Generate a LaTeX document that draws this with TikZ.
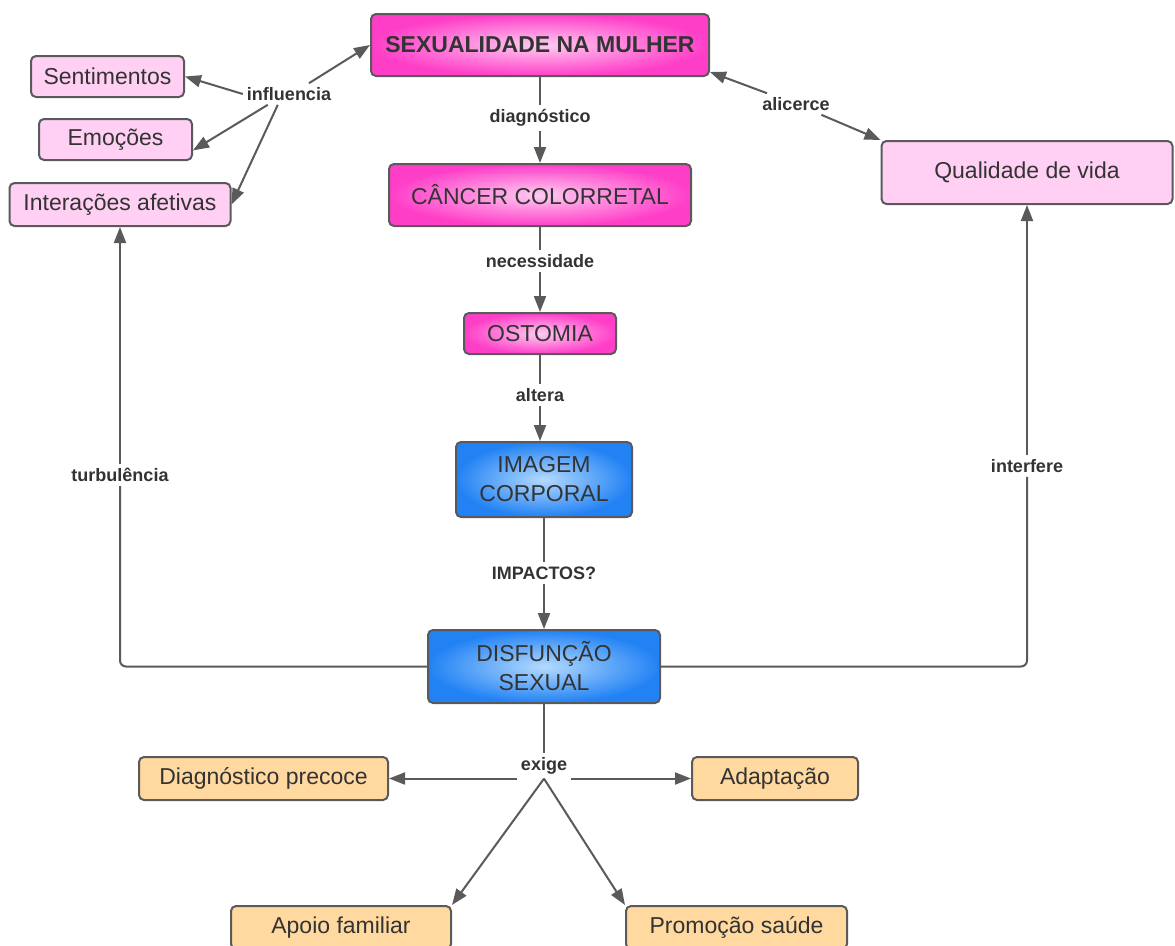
\documentclass[tikz,border=0pt]{standalone}
\usepackage{fontspec}
\setmainfont{Liberation Sans}
\usetikzlibrary{arrows.meta}
\definecolor{edge}{HTML}{5A5A5A}
\definecolor{txt}{HTML}{333333}
\definecolor{lpink}{HTML}{FFD0F4}
\definecolor{hpink}{HTML}{FF3EC8}
\definecolor{cpink}{HTML}{FFCCF2}
\definecolor{orng}{HTML}{FFD9A0}
\definecolor{bblue}{HTML}{2282F4}
\definecolor{cblue}{HTML}{B4DAFF}
\begin{document}
\begin{tikzpicture}[x=1pt,y=-1pt,
  box/.style={draw=edge, line width=2pt, rounded corners=5pt, text=txt, align=center,
    inner sep=0pt, font=\fontsize{23}{29}\selectfont},
  light/.style={box, fill=lpink},
  hot/.style={box, shading=radial, inner color=cpink, outer color=hpink},
  blu/.style={box, shading=radial, inner color=cblue, outer color=bblue},
  org/.style={box, fill=orng},
  lab/.style={text=txt, font=\fontsize{18}{22}\selectfont\bfseries, inner sep=4pt},
  conn/.style={draw=edge, line width=2pt},
  arr/.style={conn, -{Triangle[length=16pt,width=12pt]}},
  darr/.style={conn, {Triangle[length=16pt,width=12pt]}-{Triangle[length=16pt,width=12pt]}}
]
\fill[white] (0,0) rectangle (1175,945);
\useasboundingbox (0,0) rectangle (1175,945);

% boxes
\node[light, minimum width=153pt, minimum height=41pt] (sent) at (107.5,76.5) {Sentimentos};
\node[light, minimum width=153pt, minimum height=41pt] (emo) at (115.5,139.5) {Emoções};
\node[light, minimum width=221pt, minimum height=43pt] (inter) at (120,204.5) {Interações afetivas};
\node[hot, minimum width=338pt, minimum height=62pt, font=\fontsize{23}{29}\selectfont\bfseries] (sex) at (540,45) {SEXUALIDADE NA MULHER};
\node[hot, minimum width=302pt, minimum height=62pt] (can) at (540,195) {CÂNCER COLORRETAL};
\node[hot, minimum width=152pt, minimum height=41pt] (ost) at (540,333.5) {OSTOMIA};
\node[blu, minimum width=176pt, minimum height=75pt] (img) at (544,479.5) {IMAGEM\\CORPORAL};
\node[blu, minimum width=232pt, minimum height=73pt] (dis) at (544,666.5) {DISFUNÇÃO\\SEXUAL};
\node[light, minimum width=291pt, minimum height=63pt] (qual) at (1027,172.5) {Qualidade de vida};
\node[org, minimum width=249pt, minimum height=43pt] (diag) at (263.5,778.5) {Diagnóstico precoce};
\node[org, minimum width=166pt, minimum height=43pt] (adap) at (775,778.5) {Adaptação};
\node[org, minimum width=220pt, minimum height=43pt] (apoio) at (341,927.5) {Apoio familiar};
\node[org, minimum width=221pt, minimum height=43pt] (prom) at (736.5,927.5) {Promoção saúde};

% labels
\node[lab] (inf) at (289,94) {influencia};
\node[lab] (l1) at (540,118) {diagnóstico};
\node[lab] (l2) at (540,261) {necessidade};
\node[lab] (l3) at (540,395) {altera};
\node[lab] (l4) at (544,573) {IMPACTOS?};
\node[lab] (exi) at (544,766) {exige};
\node[lab] (alc) at (796,104) {alicerce};
\node[lab] (turb) at (120,475) {turbulência};
\node[lab] (intf) at (1027,466) {interfere};

% influencia
\draw[arr] (inf.west) -- (sent.east);
\draw[arr] ([xshift=25pt]inf.south west) -- (emo.-8);
\draw[arr] ([xshift=35pt]inf.south west) -- (inter.east);
\draw[arr] ([xshift=20pt]inf.north) -- (sex.west);

% main chain
\draw[conn] (sex) -- (l1);
\draw[arr] (l1) -- (can);
\draw[conn] (can) -- (l2);
\draw[arr] (l2) -- (ost);
\draw[conn] (ost) -- (l3);
\draw[arr] (l3) -- (l3 |- img.north);
\draw[conn] (img) -- (l4);
\draw[arr] (l4) -- (dis);

% alicerce
\draw[arr] (alc) -- ([yshift=5pt]sex.south east);
\draw[arr] (alc) -- (qual.north west);

% side loops
\draw[conn, rounded corners=6pt] (dis.west) -| (turb.south);
\draw[arr] (turb.north) -- (inter.south);
\draw[conn, rounded corners=6pt] (dis.east) -| (intf.south);
\draw[arr] (intf.north) -- (qual.south);

% exige
\draw[conn] (dis.south) -- (exi.north);
\draw[arr] (exi.west |- diag.east) -- (diag.east);
\draw[arr] (exi.east |- adap.west) -- (adap.west);
\draw[arr] (exi.south) -- (apoio.north east);
\draw[arr] (exi.south) -- (prom.north west);
\end{tikzpicture}
\end{document}
